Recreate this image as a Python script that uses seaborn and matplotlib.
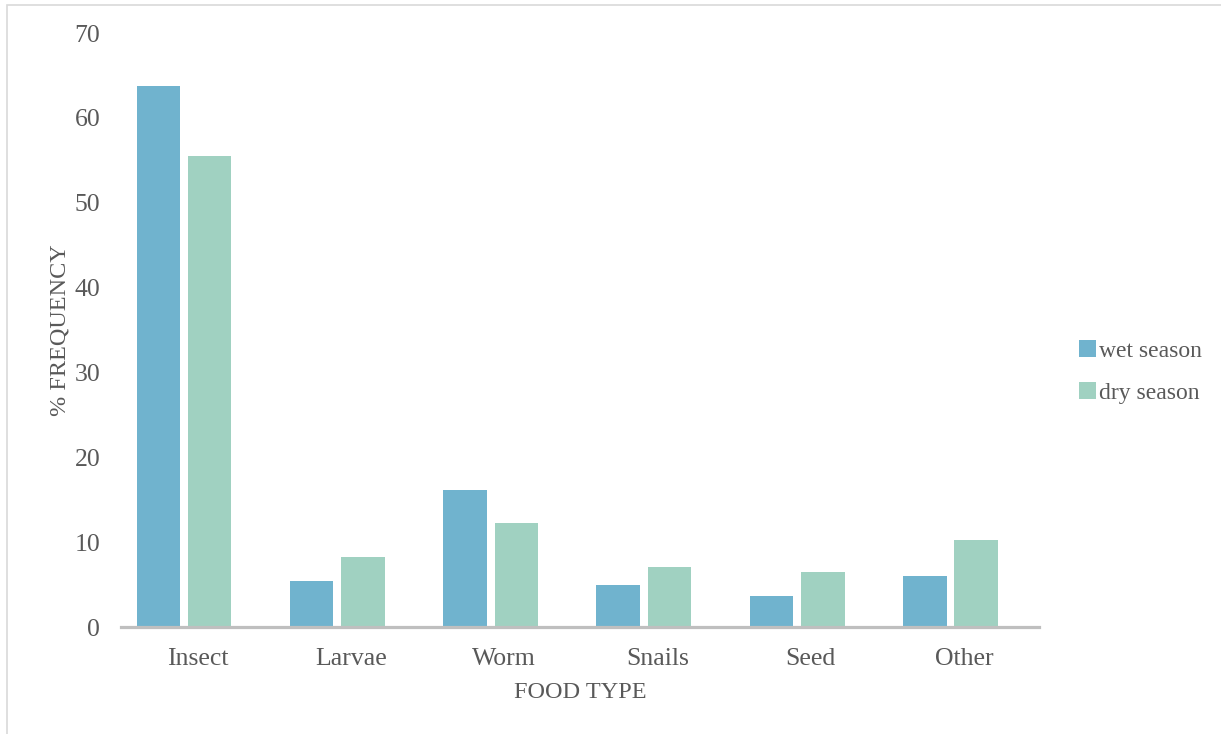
import matplotlib
matplotlib.use("Agg")
import matplotlib.pyplot as plt
from matplotlib.patches import Rectangle, Patch
import seaborn as sns
import pandas as pd

# Diet composition by season
food_types = ["Insect", "Larvae", "Worm", "Snails", "Seed", "Other"]
wet_season = [63.7, 5.4, 16.1, 4.95, 3.65, 5.97]
dry_season = [55.5, 8.2, 12.2, 7.1, 6.5, 10.25]
season_names = ["wet season", "dry season"]
y_ticks = [0, 10, 20, 30, 40, 50, 60, 70]

colors = ["#70B3CE", "#A0D1C1"]
text_color = "#595959"

df = pd.DataFrame({
    "food": food_types * 2,
    "value": wet_season + dry_season,
    "season": [season_names[0]] * len(food_types) + [season_names[1]] * len(food_types),
})

sns.set_theme(style="white")
plt.rcParams["font.family"] = ["Liberation Serif", "DejaVu Serif"]

W, H = 1221, 734
fig = plt.figure(figsize=(W / 100, H / 100), dpi=100)
ax = fig.add_axes([121 / W, 1 - 627 / H, (1039 - 121) / W, (627 - 33) / H])

sns.barplot(data=df, x="food", y="value", hue="season", order=food_types,
            hue_order=season_names, palette=colors, width=0.67, gap=0.152,
            saturation=1, ax=ax, legend=False, linewidth=0)

# category labels sit slightly right of the bar pairs
shift = 0.088
ax.set_xticks([i + shift for i in range(len(food_types))])
ax.set_xticklabels(food_types)
ax.set_xlim(-0.411, 5.577)
ax.set_ylim(0, 70)
ax.set_yticks(y_ticks)
ax.set_yticklabels([str(t) for t in y_ticks])

for s in ["top", "right", "left"]:
    ax.spines[s].set_visible(False)
ax.spines["bottom"].set_color("#BFBFBF")
ax.spines["bottom"].set_linewidth(2.3)
ax.tick_params(axis="both", length=0, labelsize=18.5, labelcolor=text_color)
ax.tick_params(axis="x", pad=15)
ax.tick_params(axis="y", pad=15)
ax.grid(False)

ax.set_xlabel("FOOD TYPE", fontsize=17.5, color=text_color, labelpad=9)
ax.set_ylabel("% FREQUENCY", fontsize=17.5, color=text_color, labelpad=2.5)

handles = [Patch(facecolor=c, edgecolor="none") for c in colors]
fig.legend(handles, season_names, loc="center left",
           bbox_to_anchor=(1058 / W, 1 - 372 / H), frameon=False,
           fontsize=17, labelcolor=text_color, handlelength=0.7,
           handleheight=0.7, handletextpad=0.15, labelspacing=0.88)

# outer chart-area border
fig.patches.append(Rectangle((7 / W, -0.1), 1.2, 1 - 5 / H + 0.1,
                             transform=fig.transFigure, fill=False,
                             edgecolor="#D9D9D9", linewidth=1.2))

fig.savefig("out.png", dpi=100)
